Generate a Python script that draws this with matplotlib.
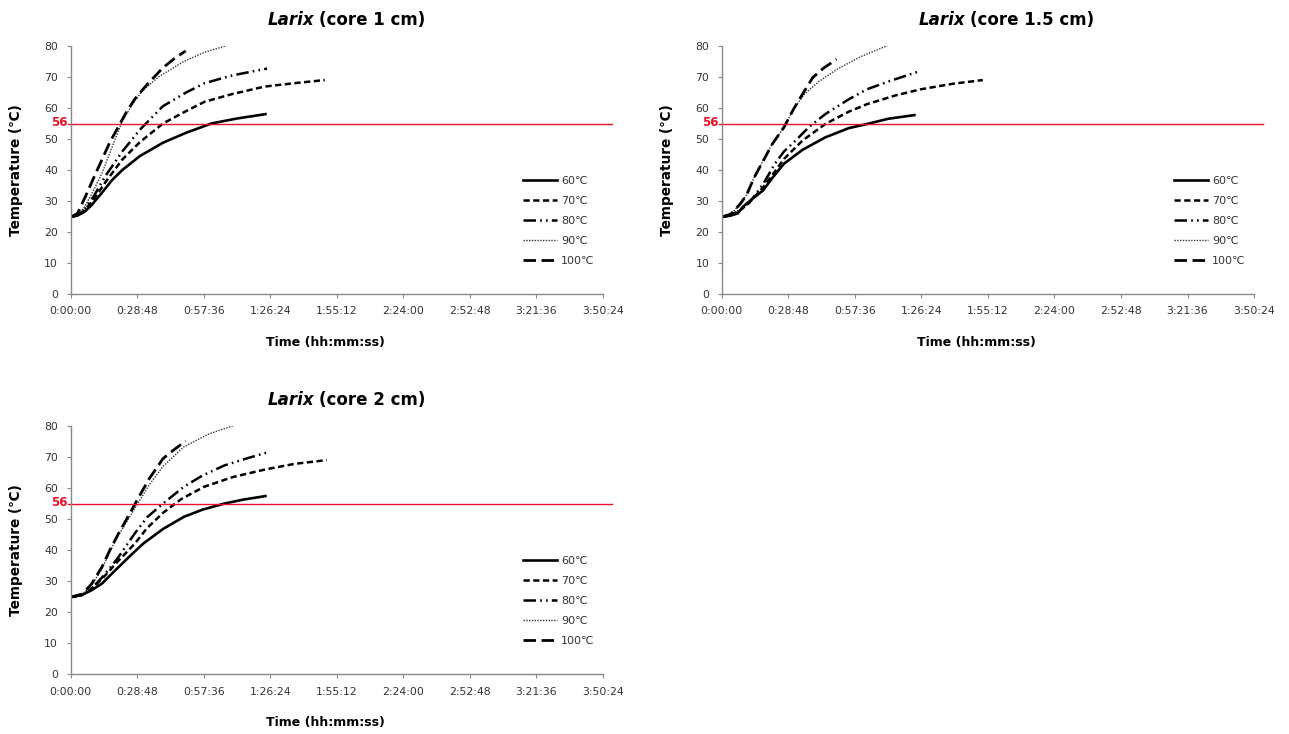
import matplotlib
matplotlib.use("Agg")
import matplotlib.pyplot as plt
from matplotlib.ticker import FixedLocator, FuncFormatter

plt.rcParams['font.family'] = ['DejaVu Sans']
plt.rcParams['lines.scale_dashes'] = False

# time in minutes, temperature in degC
labels = ["60℃", "70℃", "80℃", "90℃", "100℃"]
titles = ["(core 1 cm)", "(core 1.5 cm)", "(core 2 cm)"]
threshold_label = "56"
threshold_y = 54.8

# core 1 cm
c1_t60 = [0, 3, 6, 9, 13.6, 18, 22.4, 30, 40, 50, 61, 72, 84.3]
c1_T60 = [24.8, 25.3, 26.5, 28.6, 32.7, 36.8, 40, 44.5, 48.8, 52, 55, 56.6, 58]
c1_t70 = [0, 3, 6, 10, 15, 22.4, 30, 40, 50, 58, 70, 84, 97, 110]
c1_T70 = [24.8, 25.5, 27, 30.5, 36, 43.4, 49, 55, 59, 62, 64.5, 66.9, 68, 69]
c1_t80 = [0, 3, 6, 10, 15, 22.4, 30, 40, 50, 58, 70, 85]
c1_T80 = [24.8, 25.5, 27.5, 31.5, 38, 46, 53, 60.6, 65, 68, 70.5, 72.7]
c1_t90 = [0, 3, 6, 10, 13.6, 18, 22.4, 27, 31, 38, 49, 58, 68.4]
c1_T90 = [24.8, 25.5, 28, 33.5, 39, 47.5, 55.8, 61.5, 65.5, 70, 75, 78, 80.3]
c1_t100 = [0, 3, 6.5, 10, 13.6, 17, 20.7, 24, 27.7, 33, 40, 45, 49.8]
c1_T100 = [24.8, 26, 31.6, 37.5, 43.4, 49, 54, 58.5, 62.8, 67.5, 73, 76, 78.4]

# core 1.5 cm
c15_t60 = [0, 4, 7, 9, 13, 17.9, 22, 26.9, 35, 44.8, 55, 62.8, 72, 83.4]
c15_T60 = [24.8, 25.3, 26, 28, 30.5, 33.4, 37.5, 42, 46.5, 50.5, 53.5, 54.8, 56.5, 57.7]
c15_t70 = [0, 4, 8, 12, 18, 23, 27, 35, 44.8, 55, 62.8, 75, 86, 100, 113]
c15_T70 = [24.8, 25.5, 27, 29.5, 34.5, 39.5, 43.6, 49.5, 54.8, 58.8, 61.2, 64, 66, 67.8, 69]
c15_t80 = [0, 4, 8, 12, 18, 23, 27, 32, 38, 44.8, 55, 62.8, 72, 84.6]
c15_T80 = [24.8, 25.5, 27, 29.5, 35.5, 42, 46, 49.5, 54, 58, 62.8, 66, 68.5, 71.6]
c15_t90 = [0, 4, 8, 10.8, 14, 17.9, 22, 26.9, 31, 35.9, 42, 50, 60, 72]
c15_T90 = [24.8, 25.8, 29, 32, 37.5, 43, 48.5, 53.7, 59.5, 64.5, 68.5, 72.5, 76.5, 80.2]
c15_t100 = [0, 4, 8, 10.8, 14, 18, 22, 26.9, 31, 35, 39.4, 44, 49.7]
c15_T100 = [24.8, 25.8, 29, 32, 37.5, 43, 48.5, 53.7, 59.5, 64.5, 69.8, 72.8, 75.7]

# core 2 cm
c2_t60 = [0, 4.8, 9, 13.6, 18, 22.4, 27, 31.3, 40, 49, 57, 66.6, 75, 84.3]
c2_T60 = [24.8, 25.5, 27, 29.2, 32.5, 35.7, 39, 42, 46.8, 50.7, 53, 55, 56.3, 57.4]
c2_t70 = [0, 5, 9, 14, 20, 27.7, 33, 40, 48, 57.8, 70, 84.3, 97, 110.8]
c2_T70 = [24.8, 25.5, 27.5, 31, 36, 42, 47, 52, 56.5, 60.4, 63.5, 66, 67.8, 69]
c2_t80 = [0, 5, 9, 14, 20, 27.7, 33, 40, 49, 57, 66.6, 76, 85.7]
c2_T80 = [24.8, 25.5, 27.5, 31.5, 37, 45.3, 50.5, 55, 60.4, 64, 67.3, 69.5, 71.6]
c2_t90 = [0, 5, 9, 13.6, 17, 20.7, 25, 29.5, 34, 40, 49, 60, 71.6]
c2_T90 = [24.8, 25.8, 28.5, 34, 39.5, 44.8, 50, 55.5, 61, 67, 73.3, 77.5, 80.4]
c2_t100 = [0, 5, 9, 13.6, 17, 20.7, 25, 29.5, 34, 40, 45, 49.8]
c2_T100 = [24.8, 25.8, 29, 34.6, 40, 45.3, 51, 57.1, 63, 69.5, 72.5, 75.2]

panels = [
    [(c1_t60, c1_T60), (c1_t70, c1_T70), (c1_t80, c1_T80), (c1_t90, c1_T90), (c1_t100, c1_T100)],
    [(c15_t60, c15_T60), (c15_t70, c15_T70), (c15_t80, c15_T80), (c15_t90, c15_T90), (c15_t100, c15_T100)],
    [(c2_t60, c2_T60), (c2_t70, c2_T70), (c2_t80, c2_T80), (c2_t90, c2_T90), (c2_t100, c2_T100)],
]

# line styles for 60,70,80,90,100
styles = [
    dict(linestyle='-', lw=1.9, color='black'),
    dict(linestyle=(0, (4.5, 2.5)), lw=1.8, color='black'),
    dict(linestyle=(0, (9, 3, 1.2, 3, 1.2, 3)), lw=1.8, color='black'),
    dict(linestyle=(0, (1, 1)), lw=1.0, color='#333333'),
    dict(linestyle=(0, (9, 4)), lw=2.0, color='black'),
]

xticks = [28.8 * i for i in range(9)]


def hms(x, pos):
    s = int(round(x * 60))
    return "%d:%02d:%02d" % (s // 3600, (s % 3600) // 60, s % 60)


fig = plt.figure(figsize=(12.89, 7.34), dpi=100)
boxes = [[0.0548, 0.5995, 0.413, 0.3379],
         [0.5599, 0.5995, 0.413, 0.3379],
         [0.0548, 0.0817, 0.413, 0.3379]]

for k in range(3):
    ax = fig.add_axes(boxes[k])
    for (t, T), lab, st in zip(panels[k], labels, styles):
        ax.plot(t, T, label=lab, **st)
    ax.set_xlim(0, 230.4)
    ax.set_ylim(0, 80)
    ax.xaxis.set_major_locator(FixedLocator(xticks))
    ax.xaxis.set_major_formatter(FuncFormatter(hms))
    ax.set_yticks(range(0, 81, 10))
    for sp in ['top', 'right']:
        ax.spines[sp].set_visible(False)
    for sp in ['left', 'bottom']:
        ax.spines[sp].set_color('#888888')
        ax.spines[sp].set_linewidth(1.0)
    ax.tick_params(axis='both', colors='#888888', labelcolor='#333333', labelsize=7.8, length=3, width=0.8)
    ax.tick_params(axis='x', pad=6)
    ax.tick_params(axis='y', pad=6)

    # 56 reference line
    ax.axhline(threshold_y, xmin=-0.005, xmax=1.017, color='#e8102a', lw=1.0, clip_on=False)
    ax.text(-0.005, threshold_y + 0.6, threshold_label, color='#e8102a', fontsize=8.5, fontweight='bold',
            ha='right', va='center', transform=ax.get_yaxis_transform())

    # title: italic genus + bold rest
    ax.text(0.458, 1.105, "Larix", fontsize=12, fontweight='bold', fontstyle='italic',
            ha='right', va='center', transform=ax.transAxes)
    ax.text(0.466, 1.105, titles[k], fontsize=12, fontweight='bold',
            ha='left', va='center', transform=ax.transAxes)

    ax.text(-0.102, 0.5, "Temperature (℃)", fontsize=9.8, fontweight='bold', rotation=90,
            ha='center', va='center', transform=ax.transAxes)
    ax.text(0.479, -0.194, "Time (hh:mm:ss)", fontsize=9, fontweight='bold',
            ha='center', va='center', transform=ax.transAxes)

    leg = ax.legend(loc='upper left', bbox_to_anchor=(0.849, 0.476), frameon=False,
                    borderaxespad=0, borderpad=0, handlelength=3.1, handletextpad=0.35,
                    labelspacing=0.9, fontsize=8)
    for txt in leg.get_texts():
        txt.set_color('#333333')

fig.savefig("out.png", dpi=100)
